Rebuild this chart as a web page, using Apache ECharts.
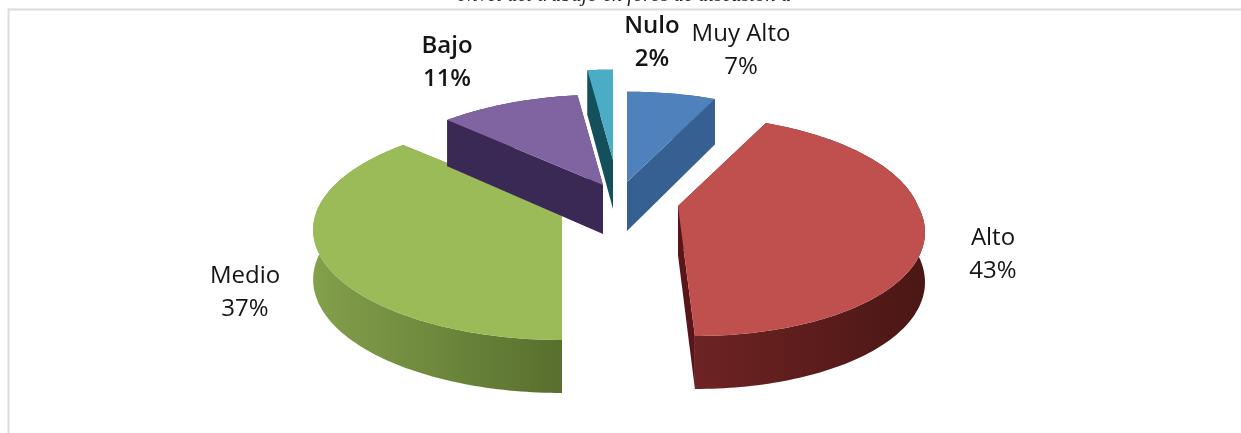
<!DOCTYPE html>
<html><head><meta charset="utf-8">
<style>html,body{margin:0;padding:0;background:#fff}#c{width:1241px;height:433px;filter:blur(0.5px)}</style>
<script src="https://cdn.jsdelivr.net/npm/echarts@6/dist/echarts.min.js"></script>
</head><body><div id="c"></div>
<script>
var categories = ['Muy Alto', 'Alto', 'Medio', 'Bajo', 'Nulo'];
var values = [7, 43, 37, 11, 2];
var titleText = 'Nivel del trabajo en foros de discusión a';

// layout and styles, per slice
var centers = [[627,182],[678,206],[562,210],[603,185],[613,160]];
var shears = [0, 0.13, 0, 0, 0];
var radiusScale = [1, 1, 1.02, 1, 1];
var labelPos = [[741,51],[993,255],[245,293],[447,63],[652,43]];
var labelWeight = [500, 500, 500, 600, 600];
var topColors = ['#4f81bd','#c0504d','#9bbb59','#8064a2','#4bacc6'];
var cutColors = ['#376092','#5a1518','#5d7530','#3a2855','#14505c'];
var sideLeft = ['#376092','#6e2323','#83a04c','#3a2855','#14505c'];
var sideRight = ['#376092','#4a1715','#586f2d','#3a2855','#14505c'];
var drawOrder = [2,1,0,4,3];
var RX = 240, RY = 106.6, P = 0.18;

var chart = echarts.init(document.getElementById('c'));
var total = values.reduce(function(a,b){return a+b;},0);
var starts = [], acc = 0;
values.forEach(function(v){ starts.push(acc/total*Math.PI*2); acc += v; });

function project(i, ang){
  var u = Math.sin(ang), v = -Math.cos(ang), s = 1/(1-P*v);
  var dy = RY*v*s;
  return [centers[i][0] + RX*radiusScale[i]*u*s + (dy>0 ? shears[i]*dy : 0), centers[i][1] + dy, 49 + 4*v];
}
function down(p){ return [p[0], p[1]+p[2]]; }

function renderItem(params, api){
  var i = api.value(0);
  var a0 = starts[i], a1 = a0 + values[i]/total*Math.PI*2;
  var n = Math.max(3, Math.ceil((a1-a0)/0.02)), arc = [];
  for (var k=0;k<=n;k++) arc.push(project(i, a0+(a1-a0)*k/n));
  var c = centers[i], tip = [c[0],c[1]], tipB = [c[0],c[1]+49];
  var topPts = [tip].concat(arc.map(function(p){return [p[0],p[1]];}));
  var sidePts = arc.map(function(p){return [p[0],p[1]];}).concat(arc.slice().reverse().map(down));
  var first = arc[0], last = arc[n];
  var cutA = [tip,[first[0],first[1]],down(first),tipB];
  var cutB = [tip,[last[0],last[1]],down(last),tipB];
  var sideFill = new echarts.graphic.LinearGradient(0,0,1,0,[{offset:0,color:sideLeft[i]},{offset:1,color:sideRight[i]}]);
  return {type:'group',children:[
    {type:'polygon',shape:{points:sidePts},style:{fill:sideFill}},
    {type:'polygon',shape:{points:cutA},style:{fill:cutColors[i]}},
    {type:'polygon',shape:{points:cutB},style:{fill:cutColors[i]}},
    {type:'polygon',shape:{points:topPts},style:{fill:topColors[i]}},
    {type:'text',style:{x:labelPos[i][0],y:labelPos[i][1],text:categories[i]+'\n'+values[i]+'%',
      align:'center',verticalAlign:'middle',lineHeight:33,fill:'#151515',
      fontFamily:'Open Sans',fontSize:24,fontWeight:labelWeight[i]}}
  ]};
}

chart.setOption({
  animation:false,
  backgroundColor:'#fff',
  graphic:[
    {type:'rect',shape:{x:8,y:8.5,width:1233,height:2},style:{fill:'#dcdcdc'},silent:true},
    {type:'rect',shape:{x:7.5,y:8.5,width:2,height:425},style:{fill:'#dcdcdc'},silent:true},
    {type:'text',style:{x:625,y:-14.5,text:titleText,align:'center',verticalAlign:'top',
      fill:'#222',fontFamily:'Liberation Serif',fontStyle:'italic',fontSize:20.5},silent:true}
  ],
  series:[{
    type:'custom',coordinateSystem:'none',renderItem:renderItem,silent:true,
    data:drawOrder.map(function(i){return [i];}),
    encode:{}
  }]
});
</script></body></html>
